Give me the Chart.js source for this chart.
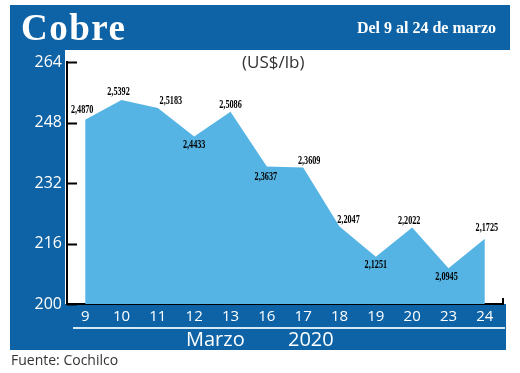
<!DOCTYPE html>
<html>
<head>
<meta charset="utf-8">
<script src="https://cdn.jsdelivr.net/npm/chart.js@4.4.1/dist/chart.umd.min.js"></script>
<style>
  html, body { margin: 0; padding: 0; background: #fff; }
  #wrap { position: relative; width: 520px; height: 373px; overflow: hidden; }
  #wrap canvas { position: absolute; left: 0; top: 0; }
  .txt { position: absolute; white-space: nowrap; }
  #title { left: 21px; top: 6px; font: bold 37px "Liberation Serif", serif; color: #fff; letter-spacing: 1.5px; }
  #range { right: 24px; top: 19px; font: bold 16px "Liberation Serif", serif; color: #fff; }
  #unit { left: 242px; top: 50px; font: 17px "Open Sans", sans-serif; color: #333; }
  #mes { left: 186px; top: 325px; font: 20px "Open Sans", sans-serif; color: #fff; }
  #anio { left: 288px; top: 325px; font: 20px "Open Sans", sans-serif; color: #fff; }
  #fuente { left: 11px; top: 350px; font: 14px "Open Sans", sans-serif; color: #333; }
</style>
</head>
<body>
<div id="wrap">
  <canvas id="c" width="520" height="373"></canvas>
  <div class="txt" id="title">Cobre</div>
  <div class="txt" id="range">Del 9 al 24 de marzo</div>
  <div class="txt" id="unit">(US$/lb)</div>
  <div class="txt" id="mes">Marzo</div>
  <div class="txt" id="anio">2020</div>
  <div class="txt" id="fuente">Fuente: Cochilco</div>
</div>
<script>
// dias de marzo 2020
const days = ['9', '10', '11', '12', '13', '16', '17', '18', '19', '20', '23', '24'];
// precio del cobre, US$/lb
const prices = [2.4870, 2.5392, 2.5183, 2.4433, 2.5086, 2.3637, 2.3609, 2.2047, 2.1251, 2.2022, 2.0945, 2.1725];
// eje y (centavos)
const yTicks = [200, 216, 232, 248, 264];

const BLUE = '#0d63a6';
const AREA = '#56b4e4';

// donde va cada etiqueta respecto del punto [dx, dy]
const labelPos = [[-3, -10], [-3, -8], [13, -7], [0, 8], [0, -7], [-1, 10],
                  [6, -7], [9, -7], [0, 8], [-3, -7], [-2, 8], [2, -11]];

const frame = {
  id: 'frame',
  beforeDraw(chart) {
    const ctx = chart.ctx;
    const a = chart.chartArea;
    ctx.save();
    ctx.fillStyle = '#fff';
    ctx.fillRect(0, 0, chart.width, chart.height);
    ctx.fillStyle = BLUE;
    ctx.fillRect(10, 5, 500, 45);          // cabecera
    ctx.fillRect(10, 50, a.left - 12, 300); // banda izquierda
    ctx.fillRect(10, a.bottom, a.right + 3 - 10, 350 - a.bottom); // banda inferior
    ctx.strokeStyle = '#d4eaf7';
    ctx.lineWidth = 2;
    ctx.beginPath();
    ctx.moveTo(73, 328);
    ctx.lineTo(a.right + 2, 328);
    ctx.stroke();
    ctx.restore();
  },
  afterDraw(chart) {
    const ctx = chart.ctx;
    const a = chart.chartArea;
    const y = chart.scales.y;
    ctx.save();
    ctx.strokeStyle = '#000';
    ctx.lineWidth = 2;
    ctx.beginPath();
    yTicks.forEach(v => {
      const py = Math.round(y.getPixelForValue(v)) + 0.5;
      ctx.moveTo(a.left, py);
      ctx.lineTo(a.left + 10, py);
    });
    ctx.moveTo(a.right, a.bottom);
    ctx.lineTo(a.right, a.bottom - 6);
    ctx.stroke();
    ctx.restore();
  }
};

const valueLabels = {
  id: 'valueLabels',
  afterDatasetsDraw(chart) {
    const ctx = chart.ctx;
    const pts = chart.getDatasetMeta(0).data;
    ctx.save();
    ctx.fillStyle = '#000';
    ctx.font = 'bold 13px "Liberation Serif", serif';
    ctx.textAlign = 'center';
    ctx.textBaseline = 'middle';
    pts.forEach((p, i) => {
      const txt = prices[i].toFixed(4).replace('.', ',');
      ctx.save();
      ctx.translate(p.x + labelPos[i][0], p.y + labelPos[i][1]);
      ctx.scale(0.63, 1);
      ctx.fillText(txt, 0, 0);
      ctx.restore();
    });
    ctx.restore();
  }
};

new Chart(document.getElementById('c'), {
  type: 'line',
  data: {
    labels: days,
    datasets: [{
      data: prices.map(p => p * 100),
      fill: 'start',
      backgroundColor: AREA,
      borderWidth: 0,
      pointRadius: 0,
      tension: 0
    }]
  },
  options: {
    responsive: false,
    animation: false,
    devicePixelRatio: 1,
    layout: { padding: { top: 62, right: 17, bottom: 0, left: 0 } },
    plugins: { legend: { display: false }, tooltip: { enabled: false } },
    scales: {
      x: {
        offset: true,
        grid: { display: false, drawTicks: false },
        border: { display: true, color: '#000', width: 2 },
        ticks: { color: '#fff', padding: 4, font: { family: 'Open Sans', size: 15 } },
        afterFit(s) { s.height = 373 - 304; }
      },
      y: {
        min: 200,
        max: 264,
        afterBuildTicks(s) { s.ticks = yTicks.map(v => ({ value: v })); },
        grid: { display: false, drawTicks: false },
        border: { display: true, color: '#000', width: 2 },
        ticks: { color: '#fff', padding: 5, font: { family: 'Open Sans', size: 16 } },
        afterFit(s) { s.width = 67; }
      }
    }
  },
  plugins: [frame, valueLabels]
});
</script>
</body>
</html>
